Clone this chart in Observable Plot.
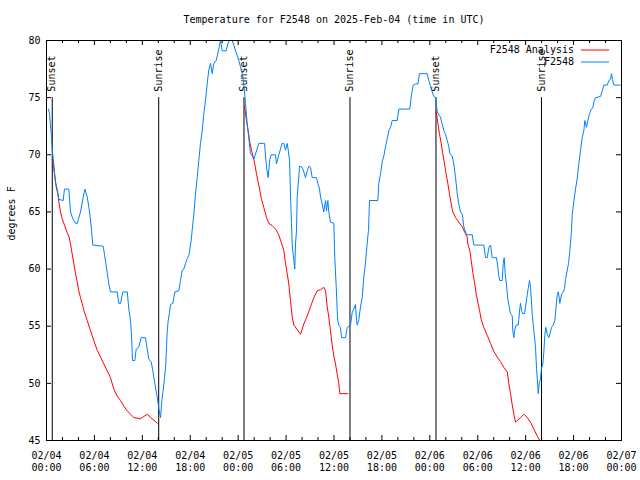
<!DOCTYPE html>
<html>
<head>
<meta charset="utf-8">
<script src="https://cdn.jsdelivr.net/npm/d3@7"></script>
<script src="https://cdn.jsdelivr.net/npm/@observablehq/plot@0.6"></script>
<style>
  html, body { margin: 0; padding: 0; background: #fff; }
</style>
</head>
<body>
<div id="chart"></div>
<script>
// Hours since 2025-02-04 00:00 UTC
const obsHours = [0.25,0.38,0.63,0.71,0.84,1.00,1.13,1.34,1.54,2.09,2.25,2.79,3.01,3.29,3.63,3.84,4.26,4.60,4.80,5.10,5.38,5.64,5.80,7.10,7.26,7.43,7.60,7.80,8.01,8.85,9.05,9.27,9.55,10.11,10.31,10.52,10.64,10.77,11.06,11.23,11.56,11.86,12.40,12.61,12.81,13.11,13.31,13.56,13.86,13.99,14.11,14.28,14.44,14.61,14.78,14.94,15.03,15.11,15.24,15.40,15.53,15.82,15.94,16.07,16.57,16.78,16.99,17.19,17.41,17.62,17.82,18.03,18.16,18.24,18.45,18.66,18.87,19.07,19.28,19.50,19.70,19.91,20.12,20.32,20.54,20.75,20.95,21.25,21.50,21.79,22.00,22.50,22.70,22.88,23.25,23.45,23.67,23.88,24.08,24.29,24.51,24.71,24.92,25.13,25.33,25.54,25.76,25.96,26.59,27.30,27.55,27.76,27.96,28.14,28.68,28.80,29.09,29.51,29.72,29.93,30.14,30.27,30.43,30.55,30.68,30.77,30.97,31.09,31.18,31.31,31.39,31.59,31.68,32.02,32.22,32.43,32.65,32.85,33.06,33.27,33.81,33.97,34.19,34.31,34.52,34.72,34.94,35.06,35.23,35.35,35.56,35.98,36.10,36.28,36.40,36.48,36.60,36.81,36.94,37.44,37.65,38.07,38.28,38.48,38.69,38.82,38.91,39.11,39.32,39.53,39.73,39.94,40.07,40.23,40.32,40.45,41.49,41.61,41.82,42.04,42.24,42.45,42.66,42.86,43.08,43.29,43.91,44.12,45.49,45.71,45.92,46.21,46.50,46.71,47.67,47.87,48.08,48.30,48.50,48.71,48.92,49.12,49.33,49.54,49.75,49.96,50.18,50.38,50.50,50.80,51.00,51.22,51.43,51.63,51.84,52.06,52.26,52.59,53.31,53.51,54.76,54.97,55.19,55.39,55.60,55.81,56.35,56.51,56.64,56.76,57.06,57.19,57.31,57.44,57.60,57.76,57.94,58.10,58.32,58.39,58.52,58.60,58.82,59.06,59.14,59.26,59.35,59.48,59.61,59.86,59.98,60.19,60.32,60.48,60.61,60.82,61.02,61.23,61.36,61.52,61.57,61.70,61.86,61.98,62.15,62.27,62.40,62.52,62.70,62.90,63.11,63.24,63.45,63.65,63.78,63.95,64.08,64.20,64.28,64.49,64.70,64.86,64.99,65.20,65.37,65.53,65.65,65.74,65.83,66.03,66.24,66.45,66.66,66.87,67.08,67.28,67.41,67.62,67.78,68.00,68.21,68.41,68.53,68.75,69.37,69.59,69.79,70.21,70.42,70.63,70.75,70.87,71.04,71.88];
const obsTemps = [74.0,73.6,71.5,70.5,69.7,68.5,67.6,67.0,66.1,66,67,67,65.0,64.4,64.0,64,65,66.3,67.0,66.3,65.1,63.4,62.1,62,61.3,60.5,59.7,58.7,58.0,58,57.0,57,58,58,56.5,55.5,54.3,52.0,52,53.0,53.2,54.0,54,53,52.1,51.9,51.1,50.0,48.8,48.2,47.6,47.0,48.5,49.4,50.5,51.7,53.2,54.5,55.5,56.2,56.9,57,57.5,58.0,58.1,59.0,59.9,60.0,60.5,60.9,61.2,62.1,62.8,63.4,64.8,66.6,68.0,69.5,71.0,72.1,73.6,74.75,76.2,77.4,78.0,77.1,78.0,78.25,79.0,80,79.1,79.1,79.7,80,80,79.6,79.1,78.7,78.25,77.7,77.1,76.1,74.5,72.7,71.5,70.1,69.9,69.6,71,71,68.9,68.0,69.6,70.0,70,69.2,70,71,71,70.4,71,70.4,69.5,66.6,64.0,62.1,60.75,60.0,62.2,63.4,66.3,68.0,69.0,68.9,68.5,68.0,68.6,69.0,68.9,68.0,68,67.5,67.0,66.3,65.7,65.0,66.0,65.1,66,65,64.1,64.0,61.0,58.4,56.4,55.5,55.1,54.9,54.0,54.0,54.9,55.1,56.2,56.5,56.9,55.5,55.1,55.6,56.7,57.5,59.3,60.5,61.6,62.8,63.4,66.0,66,67.5,68.3,69.4,69.9,70.7,71.4,72.1,72.4,73.0,73.0,74.0,74.0,75.3,76.1,76.2,76.2,77.1,77.1,76.5,76.0,75.5,75.1,75.0,73.8,73.5,73.3,72.7,72.1,71.8,71.25,70.7,70.1,69.9,69.2,68.0,66.6,65.7,65.0,64.8,63.7,63.0,63,62.1,62.1,61.0,61,61.9,62.1,61.0,61,60.2,59.4,59.0,59,60.5,61.0,59.6,58.6,57.4,56.7,56.1,55.9,54.6,54.0,54.6,55.1,55.1,55.6,56.5,57.0,56.4,56.1,56.1,56.7,57.7,58.3,59.0,58.4,56.1,54.6,53.2,51.3,49.8,49.1,50.0,50.4,51.3,51.7,52.7,54.2,54.9,54.3,54.0,54.5,54.9,55.1,55.5,56.5,57.7,58.0,57.5,57.0,57.8,58.0,58.3,59.1,59.9,60.5,61.6,62.6,63.4,64.8,65.9,67.0,67.9,69.2,70.4,71.5,72.1,73.0,72.4,73.0,73.6,74.0,74.1,74.6,75.0,75.1,75.6,76.1,76.1,76.5,76.6,77.1,76.6,76.1,76.1];

// Analysis (nighttime only); null separates nights
const anaHours = [0.71,0.84,1.00,1.21,1.42,1.54,1.75,1.97,2.17,2.59,2.79,3.01,3.22,3.42,3.63,3.84,4.04,4.26,4.47,4.67,5.10,5.51,5.92,6.35,6.76,7.18,7.60,8.01,8.43,8.85,9.27,9.68,10.11,10.52,10.93,11.36,11.77,12.18,12.68,13.02,13.44,13.86,
  null,
  24.79,25.04,25.26,25.46,25.67,25.88,26.08,26.30,26.51,26.71,26.92,27.21,27.55,27.84,28.26,28.68,29.02,29.39,29.72,29.93,30.14,30.34,30.55,30.77,30.97,31.39,31.81,32.22,32.65,33.06,33.47,33.90,34.31,34.72,34.94,35.15,35.35,35.56,35.78,35.98,36.19,36.40,36.60,36.73,37.73,
  null,
  48.80,49.00,49.21,49.42,49.62,49.84,50.05,50.25,50.46,50.68,50.88,51.22,51.63,52.06,52.38,52.68,52.76,53.01,53.18,53.38,53.59,53.81,54.01,54.22,54.43,54.76,55.19,55.60,56.01,56.44,56.85,57.26,57.69,57.89,58.10,58.32,58.52,58.73,58.94,59.35,59.77,60.19,60.61,61.02,61.44,61.77];
const anaTemps = [69.6,69.2,68.3,67.2,66.6,65.9,65.0,64.4,64.0,63.2,62.9,62.2,61.3,60.5,59.6,58.9,58.1,57.5,57.0,56.4,55.5,54.6,53.75,52.9,52.3,51.7,51.1,50.5,49.5,48.9,48.5,48.0,47.6,47.3,47.0,46.95,46.9,47.1,47.3,47.0,46.8,46.5,
  null,
  74.3,73.0,72.1,71.1,70.4,69.8,69.2,68.3,67.6,66.9,66.1,65.4,64.5,64.0,63.8,63.5,63.1,62.35,61.6,60.5,59.6,58.7,57.25,55.8,55.1,54.7,54.3,55.2,55.9,56.7,57.5,58.1,58.2,58.4,58.1,56.7,55.8,54.6,53.3,52.4,51.7,50.8,50.0,49.1,49.1,
  null,
  73.8,72.8,71.8,71.0,70.1,69.2,68.3,67.5,66.6,65.7,65.0,64.5,64.1,63.7,63.2,62.8,62.2,61.6,60.75,59.7,58.9,57.8,57.1,56.4,55.6,54.9,54.2,53.5,52.8,52.3,51.9,51.4,51.0,50.0,49.1,48.1,47.3,46.6,46.75,47.0,47.3,47.0,46.6,46.0,45.4,45.0];

const sunHours = [0.72, 14.05, 24.73, 38.0, 48.77, 61.98];
const sunLabels = ["Sunset", "Sunrise", "Sunset", "Sunrise", "Sunset", "Sunrise"];

const yTicks = [45, 50, 55, 60, 65, 70, 75, 80];
const xMajorHours = [0, 6, 12, 18, 24, 30, 36, 42, 48, 54, 60, 66, 72];
const xMinorHours = d3.range(0, 73, 2).filter(h => h % 6 !== 0);

const seriesNames = ["F2548 Analysis", "F2548"];
const seriesColors = ["#ff0000", "#0080ff"];
const titleText = "Temperature for F2548 on 2025-Feb-04 (time in UTC)";
const yLabel = "degrees F";

const t0 = Date.UTC(2025, 1, 4, 0, 0);
const toDate = h => (h == null ? null : new Date(t0 + h * 3600e3));

const obs = obsHours.map((h, i) => ({t: toDate(h), v: obsTemps[i]}));
const ana = anaHours.map((h, i) => ({t: toDate(h), v: anaTemps[i]}));
const sun = sunHours.map((h, i) => ({t: toDate(h), label: sunLabels[i]}));
const majors = xMajorHours.map(toDate);
const minors = xMinorHours.map(toDate);

const fmtDay = d3.utcFormat("%m/%d");
const fmtTime = d3.utcFormat("%H:%M");
const font = "DejaVu Sans Mono, Liberation Mono, monospace";

const W = 640, H = 480;
const mL = 46, mR = 19, mT = 40, mB = 40;
const plotW = W - mL - mR, plotH = H - mT - mB;

const chart = Plot.plot({
  width: W,
  height: H,
  marginLeft: mL,
  marginRight: mR,
  marginTop: mT,
  marginBottom: mB,
  style: {fontFamily: font, fontSize: "10px", background: "#fff", color: "#000"},
  x: {type: "utc", domain: [toDate(0), toDate(72)], axis: null},
  y: {domain: [45, 80], axis: null},
  marks: [
    // inward ticks
    Plot.tickX(majors, {x: d => d, insetTop: plotH - 5, stroke: "#000"}),
    Plot.tickX(majors, {x: d => d, insetBottom: plotH - 5, stroke: "#000"}),
    Plot.tickX(minors, {x: d => d, insetTop: plotH - 3, stroke: "#000"}),
    Plot.tickX(minors, {x: d => d, insetBottom: plotH - 3, stroke: "#000"}),
    Plot.tickY(yTicks, {y: d => d, insetRight: plotW - 5, stroke: "#000"}),
    Plot.tickY(yTicks, {y: d => d, insetLeft: plotW - 5, stroke: "#000"}),
    // tick labels
    Plot.text(majors, {x: d => d, frameAnchor: "bottom", lineAnchor: "middle", dy: 15, text: d => fmtDay(d), fill: "#000"}),
    Plot.text(majors, {x: d => d, frameAnchor: "bottom", lineAnchor: "middle", dy: 27, text: d => fmtTime(d), fill: "#000"}),
    Plot.text(yTicks, {y: d => d, frameAnchor: "left", lineAnchor: "middle", dx: -6, textAnchor: "end", text: d => String(d), fill: "#000"}),
    // y label
    Plot.text([yLabel], {frameAnchor: "left", lineAnchor: "middle", dx: -35, rotate: -90, text: d => d, fill: "#000"}),
    // title
    Plot.text([titleText], {frameAnchor: "top", lineAnchor: "middle", dy: -21, text: d => d, fill: "#000"}),
    // sunrise / sunset
    Plot.ruleX(sun, {x: "t", y1: 45, y2: 75, stroke: "#000", strokeWidth: 1}),
    Plot.text(sun, {x: "t", y: 75, text: "label", rotate: -90, textAnchor: "start", lineAnchor: "middle", dy: -6, fill: "#000"}),
    // series
    Plot.line(ana, {x: "t", y: "v", stroke: seriesColors[0], strokeWidth: 1}),
    Plot.line(obs, {x: "t", y: "v", stroke: seriesColors[1], strokeWidth: 1}),
    Plot.frame({stroke: "#000"})
  ]
});

// legend (inside plot, top-right)
const svg = d3.select(chart);
seriesNames.forEach((name, i) => {
  const y = mT + 10 + i * 12;
  const xr = W - mR;
  svg.append("text")
    .attr("x", xr - 47).attr("y", y).attr("dy", "0.32em")
    .attr("text-anchor", "end")
    .attr("font-family", font).attr("font-size", 10).attr("fill", "#000")
    .text(name);
  svg.append("line")
    .attr("x1", xr - 40).attr("x2", xr - 12)
    .attr("y1", y).attr("y2", y)
    .attr("stroke", seriesColors[i]).attr("stroke-width", 1);
});

document.getElementById("chart").appendChild(chart);
</script>
</body>
</html>
